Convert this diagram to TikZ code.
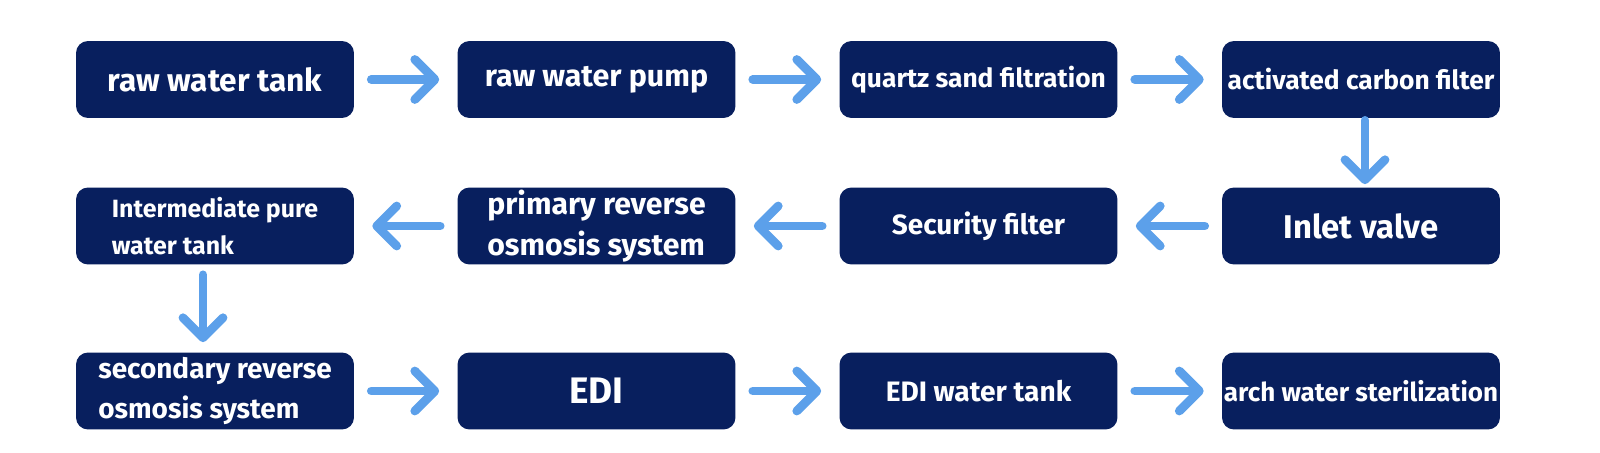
\documentclass[tikz,border=0pt]{standalone}
\usepackage{fontspec}
\setmainfont{Fira Sans}
\usetikzlibrary{arrows.meta}

\definecolor{boxnavy}{RGB}{8,31,94}
\definecolor{flowblue}{RGB}{92,160,234}

\tikzset{
  stage/.style={fill=boxnavy, text=white, rounded corners=0.24cm,
    minimum width=5.56cm, minimum height=1.54cm, inner sep=0pt,
    align=left, font=\bfseries},
  flow/.style={draw=flowblue, line width=5pt, line cap=round,
    -{Straight Barb[round, length=0.4cm, width=0.8cm]},
    shorten <=0.34cm, shorten >=0.36cm},
}

\begin{document}
\begin{tikzpicture}[x=0.02cm, y=-0.02cm]
    \useasboundingbox (0,0) rectangle (1600,453);
    \fill[white] (0,0) rectangle (1600,453);

    % first row
    \node[stage, font=\bfseries\fontsize{18}{21}\selectfont] (rawtank) at (215,79.5) {raw water tank};
    \node[stage, font=\bfseries\fontsize{17.3}{21}\selectfont] (rawpump) at (596.5,79.5) {raw water pump};
    \node[stage, font=\bfseries\fontsize{15}{19}\selectfont] (quartz) at (978.5,79.5) {quartz sand filtration};
    \node[stage, font=\bfseries\fontsize{15}{19}\selectfont] (carbon) at (1361,79.5) {activated carbon filter};

    % second row
    \node[stage, font=\bfseries\fontsize{18.7}{22}\selectfont] (inlet) at (1361,226) {Inlet valve};
    \node[stage, font=\bfseries\fontsize{15.9}{19}\selectfont] (security) at (978.5,226) {Security filter};
    \node[stage, font=\bfseries\fontsize{17.2}{23}\selectfont] (primary) at (596.5,226) {primary reverse\\osmosis system};
    \node[stage, font=\bfseries\fontsize{14.2}{21}\selectfont] (midtank) at (215,226) {Intermediate pure\\water tank};

    % third row
    \node[stage, font=\bfseries\fontsize{15.9}{22.5}\selectfont] (secondary) at (215,391) {secondary reverse\\osmosis system};
    \node[stage, font=\bfseries\fontsize{21}{26}\selectfont] (edi) at (596.5,391) {EDI};
    \node[stage, font=\bfseries\fontsize{16}{19}\selectfont] (editank) at (978.5,391) {EDI water tank};
    \node[stage, font=\bfseries\fontsize{14.8}{19}\selectfont] (steril) at (1361,391) {arch water sterilization};

    % Draw the flow between the stages
    \draw[flow] (rawtank) -- (rawpump);
    \draw[flow] (rawpump) -- (quartz);
    \draw[flow] (quartz) -- (carbon);
    \draw[flow, shorten <=0.04cm, shorten >=0.06cm] ([xshift=0.08cm]carbon.south) -- ([xshift=0.08cm]inlet.north);
    \draw[flow] (inlet) -- (security);
    \draw[flow] (security) -- (primary);
    \draw[flow] (primary) -- (midtank);
    \draw[flow, shorten <=0.2cm, shorten >=0.2cm] ([xshift=-0.24cm]midtank.south) -- ([xshift=-0.24cm]secondary.north);
    \draw[flow] (secondary) -- (edi);
    \draw[flow] (edi) -- (editank);
    \draw[flow] (editank) -- (steril);
\end{tikzpicture}
\end{document}
